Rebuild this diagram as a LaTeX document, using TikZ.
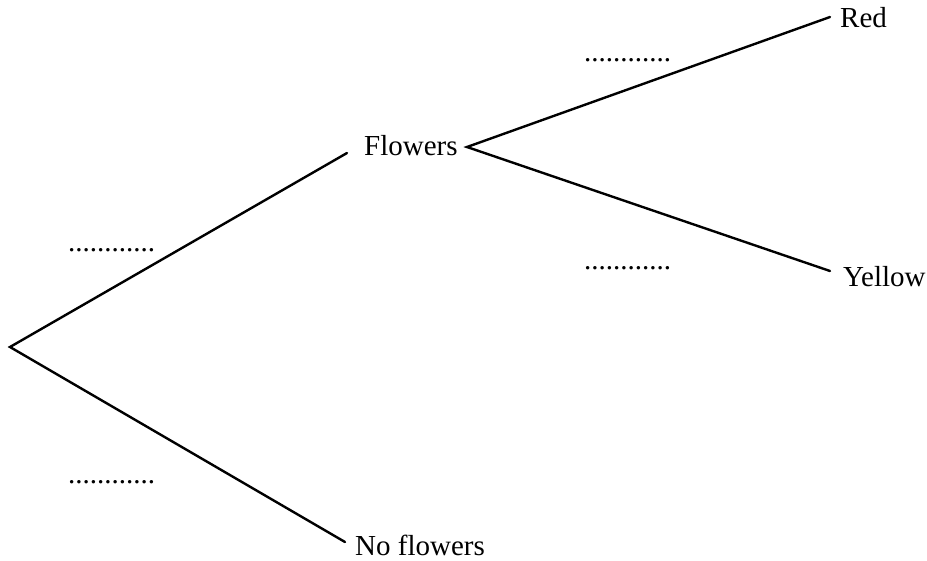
\documentclass[tikz,border=0pt]{standalone}
\usepackage{fontspec}
\setmainfont{Liberation Serif}
\begin{document}
\begin{tikzpicture}[x=1pt,y=-1pt,
  lbl/.style={anchor=base west,inner sep=0pt,font=\fontsize{29}{34}\selectfont},
  dotlbl/.style={anchor=base west,inner sep=0pt,font=\fontsize{29}{34}\selectfont},
  branch/.style={line width=2.4pt,line cap=round,line join=miter}]
\useasboundingbox (0,0) rectangle (927,560);
% text nodes
\node[lbl] (flowers) at (364,155) {Flowers};
\node[lbl] (noflowers) at (355,555) {No flowers};
\node[lbl] (red) at (840,27) {Red};
\node[lbl] (yellow) at (843,286) {Yellow};
\node[dotlbl] (d1) at (68,251) {............};
\node[dotlbl] (d2) at (68,483) {............};
\node[dotlbl] (d3) at (584,61) {............};
\node[dotlbl] (d4) at (584,269) {............};
% branch points
\coordinate (root) at (10,347);
\coordinate (fin) at (347,153);
\coordinate (nfin) at (345,542);
\coordinate (fout) at (467,147);
\coordinate (rin) at (830,17);
\coordinate (yin) at (830,271);
\draw[branch] (fin) -- (root) -- (nfin);
\draw[branch] (rin) -- (fout) -- (yin);
\end{tikzpicture}
\end{document}
